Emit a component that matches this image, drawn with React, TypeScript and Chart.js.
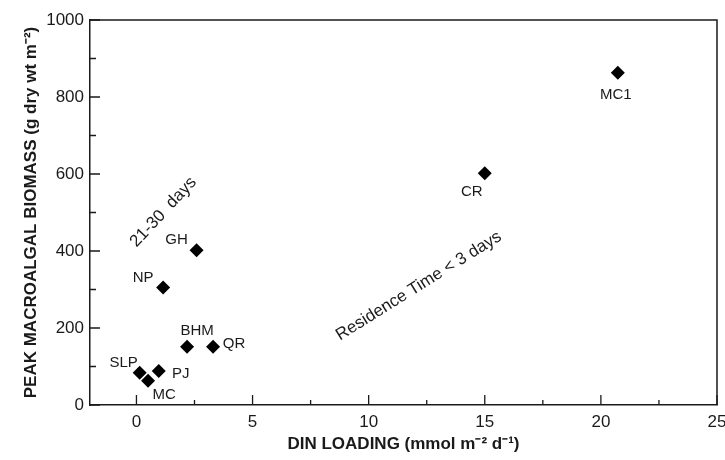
import React, { useEffect, useRef } from 'react';
import { Chart, registerables } from 'chart.js';
Chart.register(...registerables);

// ---- data ----
const siteNames = ['SLP', 'MC', 'PJ', 'NP', 'BHM', 'GH', 'QR', 'CR', 'MC1'];
const dinLoading = [0.14, 0.5, 0.96, 1.15, 2.18, 2.59, 3.3, 15.0, 20.73];
const peakBiomass = [84, 63, 88, 305, 151, 402, 151, 602, 863];
const xTickValues = [0, 5, 10, 15, 20, 25];
const xMinorTickValues = [2.5, 7.5, 12.5, 17.5, 22.5];
const yTickValues = [0, 200, 400, 600, 800, 1000];
const yMinorTickValues = [100, 300, 500, 700, 900];
const annotationTexts = ['21-30  days', 'Residence Time < 3 days'];
const annotationX = [1.16, 12.16];
const annotationY = [501, 309];

// ---- styling (pixel offsets of point labels) ----
const labelOffsets: Record<string, [number, number]> = {
  SLP: [-16, -10],
  MC: [16, 14],
  PJ: [22, 3],
  NP: [-20, -10],
  BHM: [10, -16],
  GH: [-20, -10],
  QR: [21, -3],
  CR: [-13, 19],
  MC1: [-2, 22],
};
const annotationAngles = [-47, -32];
const annotationSizes = [17, 17];

const FONT = '"Liberation Sans", Arial, Helvetica, sans-serif';
const INK = '#1a1a1a';

const overlayPlugin = {
  id: 'overlay',
  afterDraw(chart: any) {
    const { ctx, chartArea, scales } = chart;
    const xs = scales.x;
    const ys = scales.y;
    ctx.save();
    ctx.strokeStyle = INK;
    ctx.lineWidth = 1.5;
    // frame top/right
    ctx.beginPath();
    ctx.moveTo(chartArea.left, chartArea.top);
    ctx.lineTo(chartArea.right, chartArea.top);
    ctx.lineTo(chartArea.right, chartArea.bottom);
    ctx.stroke();
    // inside ticks
    ctx.lineWidth = 1.3;
    ctx.beginPath();
    xTickValues.forEach((v) => {
      const px = xs.getPixelForValue(v);
      ctx.moveTo(px, chartArea.bottom);
      ctx.lineTo(px, chartArea.bottom - 10);
    });
    xMinorTickValues.forEach((v) => {
      const px = xs.getPixelForValue(v);
      ctx.moveTo(px, chartArea.bottom);
      ctx.lineTo(px, chartArea.bottom - 5);
    });
    yTickValues.forEach((v) => {
      const py = ys.getPixelForValue(v);
      ctx.moveTo(chartArea.left, py);
      ctx.lineTo(chartArea.left + 10, py);
    });
    yMinorTickValues.forEach((v) => {
      const py = ys.getPixelForValue(v);
      ctx.moveTo(chartArea.left, py);
      ctx.lineTo(chartArea.left + 6, py);
    });
    ctx.stroke();

    // point labels
    ctx.fillStyle = INK;
    ctx.font = `15px ${FONT}`;
    ctx.textAlign = 'center';
    ctx.textBaseline = 'middle';
    siteNames.forEach((name, i) => {
      const px = xs.getPixelForValue(dinLoading[i]);
      const py = ys.getPixelForValue(peakBiomass[i]);
      const [dx, dy] = labelOffsets[name];
      ctx.fillText(name, px + dx, py + dy);
    });

    // rotated annotations
    annotationTexts.forEach((t, i) => {
      const px = xs.getPixelForValue(annotationX[i]);
      const py = ys.getPixelForValue(annotationY[i]);
      ctx.save();
      ctx.translate(px, py);
      ctx.rotate((annotationAngles[i] * Math.PI) / 180);
      ctx.font = `${annotationSizes[i]}px ${FONT}`;
      ctx.fillText(t, 0, 0);
      ctx.restore();
    });
    ctx.restore();
  },
};

export default function App() {
  const ref = useRef<HTMLCanvasElement>(null);
  useEffect(() => {
    if (!ref.current) return;
    const chart = new Chart(ref.current, {
      type: 'scatter',
      data: {
        datasets: [
          {
            data: dinLoading.map((x, i) => ({ x, y: peakBiomass[i] })),
            pointStyle: 'rectRot',
            pointRadius: 7,
            pointBackgroundColor: '#000',
            pointBorderColor: '#000',
            pointBorderWidth: 0,
          },
        ],
      },
      options: {
        responsive: false,
        animation: false,
        layout: { padding: { top: 20, right: 8, left: 0, bottom: 0 } },
        plugins: { legend: { display: false }, tooltip: { enabled: false } },
        scales: {
          x: {
            type: 'linear',
            min: -2,
            max: 25,
            afterBuildTicks: (s: any) => {
              s.ticks = xTickValues.map((v) => ({ value: v }));
            },
            afterFit: (s: any) => {
              s.height = 55;
              s.paddingLeft = 0;
              s.paddingRight = 0;
            },
            grid: { display: false, drawTicks: false },
            border: { display: true, color: INK, width: 1.5 },
            ticks: {
              padding: 7,
              color: INK,
              font: { family: FONT, size: 17 },
              maxRotation: 0,
              callback: (v: any) => String(v),
            },
            title: {
              display: true,
              text: 'DIN LOADING (mmol m\u207B\u00B2 d\u207B\u00B9)',
              color: INK,
              font: { family: FONT, size: 17, weight: 'bold' },
              padding: { top: 0, bottom: 5 },
            },
          },
          y: {
            type: 'linear',
            min: 0,
            max: 1000,
            afterBuildTicks: (s: any) => {
              s.ticks = yTickValues.map((v) => ({ value: v }));
            },
            afterFit: (s: any) => {
              s.width = 90;
              s.paddingTop = 0;
              s.paddingBottom = 0;
            },
            grid: { display: false, drawTicks: false },
            border: { display: true, color: INK, width: 1.5 },
            ticks: {
              padding: 6,
              color: INK,
              font: { family: FONT, size: 17 },
              callback: (v: any) => String(v),
            },
            title: {
              display: true,
              text: 'PEAK MACROALGAL BIOMASS (g dry wt m\u207B\u00B2)',
              color: INK,
              font: { family: FONT, size: 17, weight: 'bold' },
              padding: { top: 21, bottom: 0 },
            },
          },
        },
      },
      plugins: [overlayPlugin],
    });
    return () => chart.destroy();
  }, []);
  return (
    <div style={{ position: 'absolute', left: 0, top: 0, width: 725, height: 460, background: '#fff' }}>
      <canvas ref={ref} width={725} height={460} />
    </div>
  );
}
